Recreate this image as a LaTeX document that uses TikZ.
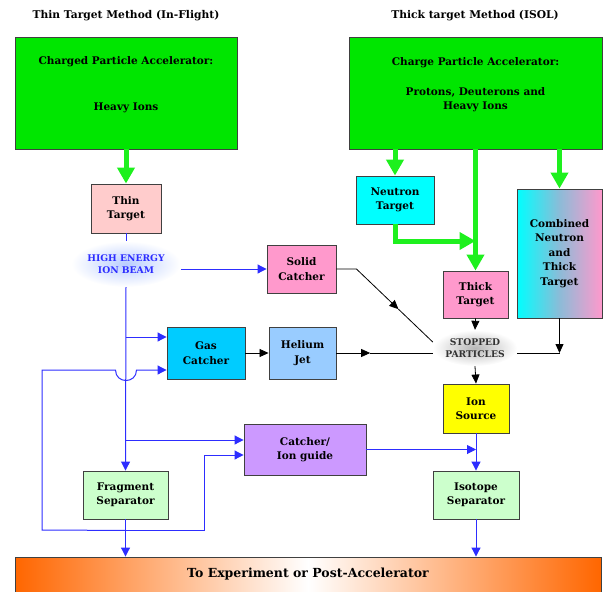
\documentclass[tikz,border=0pt]{standalone}
\usepackage{fontspec}
\setmainfont{DejaVu Serif}
\usetikzlibrary{arrows.meta,shapes.geometric,calc}
\definecolor{gfill}{RGB}{0,230,0}
\definecolor{garr}{RGB}{30,240,30}
\definecolor{pinkL}{RGB}{255,204,204}
\definecolor{pinkM}{RGB}{255,153,204}
\definecolor{gasc}{RGB}{0,204,255}
\definecolor{helc}{RGB}{153,204,255}
\definecolor{violc}{RGB}{204,153,255}
\definecolor{cyanc}{RGB}{0,255,255}
\definecolor{yelc}{RGB}{255,255,0}
\definecolor{lgreen}{RGB}{204,255,204}
\definecolor{bl}{RGB}{45,45,255}
\definecolor{glowb}{RGB}{185,205,255}
\definecolor{bor}{RGB}{255,102,0}
\begin{document}
\begin{tikzpicture}[x=1pt,y=-1pt,
  box/.style={draw=black!75,line width=0.9pt,align=center,inner sep=1pt,
    font=\fontsize{10.5}{14.5}\selectfont\bfseries},
  txt/.style={align=center,inner sep=0pt,font=\fontsize{10.5}{14.5}\selectfont\bfseries},
  ttl/.style={inner sep=0pt,font=\fontsize{10.7}{14.5}\selectfont\bfseries},
  glow/.style={ellipse,inner sep=0pt,align=center,font=\fontsize{9.2}{12}\selectfont\bfseries},
  garrow/.style={-{Triangle[length=16pt,width=17pt]},line width=5pt,draw=garr},
  barrow/.style={-{Triangle[length=9pt,width=9pt]},line width=1pt,draw=bl},
  bline/.style={line width=1pt,draw=bl},
  karrow/.style={-{Triangle[length=9pt,width=8pt]},line width=0.8pt,black},
  kline/.style={line width=0.8pt,black}]
\useasboundingbox (0,0) rectangle (603,592);

% titles
\node[ttl] (t1) at (126,16) {Thin Target Method (In-Flight)};
\node[ttl] (t2) at (475,16) {Thick target Method (ISOL)};

% accelerators
\node[box,fill=gfill,minimum width=222pt,minimum height=112pt] (accL) at (126,93) {};
\node[txt] (accLt) at (126,84.5) {Charged Particle Accelerator:\\[31pt]Heavy Ions};
\node[box,fill=gfill,minimum width=253pt,minimum height=112pt] (accR) at (475.5,93) {};
\node[txt] (accRt) at (475.5,84.5) {Charge Particle Accelerator:\\[15.5pt]Protons, Deuterons and\\Heavy Ions};

% boxes
\node[box,fill=pinkL,minimum width=70pt,minimum height=49pt] (thin) at (126,208.5) {Thin\\Target};
\node[box,fill=pinkM,minimum width=69pt,minimum height=48pt] (solid) at (301.5,269) {Solid\\Catcher};
\node[box,fill=gasc,minimum width=78pt,minimum height=52pt] (gas) at (206,353) {Gas\\Catcher};
\node[box,fill=helc,minimum width=67pt,minimum height=52pt] (helium) at (302.5,353) {Helium\\Jet};
\node[box,fill=violc,minimum width=122pt,minimum height=51pt] (cig) at (305,449.5) {Catcher/\\Ion guide};
\node[box,fill=lgreen,minimum width=85pt,minimum height=48pt] (frag) at (125.5,495) {Fragment\\Separator};
\node[box,fill=cyanc,minimum width=78pt,minimum height=48pt] (neutron) at (395,200) {Neutron\\Target};
\node[box,fill=pinkM,minimum width=65pt,minimum height=47pt] (thick) at (475.5,294.5) {Thick\\Target};
\node[box,left color=cyanc,right color=pinkM,middle color=black!10!cyanc!45!pinkM,minimum width=85pt,minimum height=129pt] (comb) at (559.5,253.5) {Combined\\Neutron\\and\\Thick\\Target};
\node[box,fill=yelc,minimum width=66pt,minimum height=49pt] (ion) at (476,408.5) {Ion\\Source};
\node[box,fill=lgreen,minimum width=86pt,minimum height=48pt] (iso) at (476,495) {Isotope\\Separator};
\node[draw=black!75,line width=0.9pt,left color=bor,right color=bor,middle color=white,
  minimum width=586pt,minimum height=35pt,font=\fontsize{12.5}{16}\selectfont\bfseries] (bar) at (308,574.5) {To Experiment or Post-Accelerator};

% glow labels
\node[glow,inner color=glowb,outer color=white,text=bl,minimum width=100pt,minimum height=46pt] (hib) at (126,264) {HIGH ENERGY\\ION BEAM};
\node[glow,inner color=black!28,outer color=white,text=black!80,minimum width=82pt,minimum height=36pt] (stp) at (475,348) {STOPPED\\PARTICLES};

% green arrows
\draw[garrow] (accL.south) -- (thin.north);
\draw[garrow] (accR.south -| neutron.north) -- (neutron.north);
\draw[garrow] (accR.south -| thick.north) -- (thick.north);
\draw[garrow] (accR.south -| comb.north) -- (comb.north);
\coordinate (nj) at (475.5,241);
\draw[garrow] (neutron.south) |- (nj);

% blue left side
\coordinate (g1) at ([yshift=16pt]gas.west);
\coordinate (g2) at ([yshift=-17pt]gas.west);
\coordinate (c1) at ([yshift=9.5pt]cig.west);
\coordinate (c2) at ([yshift=-5.5pt]cig.west);
\draw[bline] (thin.south) -- (hib.north);
\draw[barrow] (hib.south) -- (frag.north);
\draw[barrow] (hib.east |- solid.west) -- (solid.west);
\draw[barrow] (thin.south |- g1) -- (g1);
\draw[barrow] (thin.south |- c1) -- (c1);
\coordinate (j) at ([yshift=-11pt]frag.south);
\coordinate (hopL) at (115.5,370);
\coordinate (hopR) at (136.5,370);
\draw[barrow] (j) -- (42,530) -- (42,370) -- (hopL) .. controls (115.5,384) and (136.5,384) .. (hopR) -- (g2);
\draw[barrow] (j) -| (204,455) -- (c2);
\draw[barrow] (frag.south) -- (frag.south |- bar.north);

% blue right side
\draw[barrow] (ion.south) -- (iso.north);
\draw[barrow] (cig.east) -- (cig.east -| iso.north);
\draw[barrow] (iso.south) -- (iso.south |- bar.north);

% black connectors
\draw[karrow] (gas.east) -- (helium.west);
\coordinate (he) at (stp.west |- helium.east);
\coordinate (hm) at ($(helium.east)!0.35!(he)$);
\draw[karrow] (helium.east) -- (hm);
\draw[kline] (hm) -- (he);
\coordinate (sc1) at ([xshift=20pt]solid.east);
\coordinate (sce) at ([yshift=6pt]stp.west);
\coordinate (sc2) at ($(sc1)!0.55!(sce)$);
\draw[karrow] (solid.east) -- (sc1) -- (sc2);
\draw[kline] (sc2) -- (sce);
\draw[karrow] (thick.south) -- (stp.north);
\draw[karrow] (stp.south) -- (ion.north);
\coordinate (cc) at (comb.south |- helium.east);
\draw[karrow] (comb.south) -- (cc);
\draw[kline] (cc) -- (cc -| stp.east);
\end{tikzpicture}
\end{document}
